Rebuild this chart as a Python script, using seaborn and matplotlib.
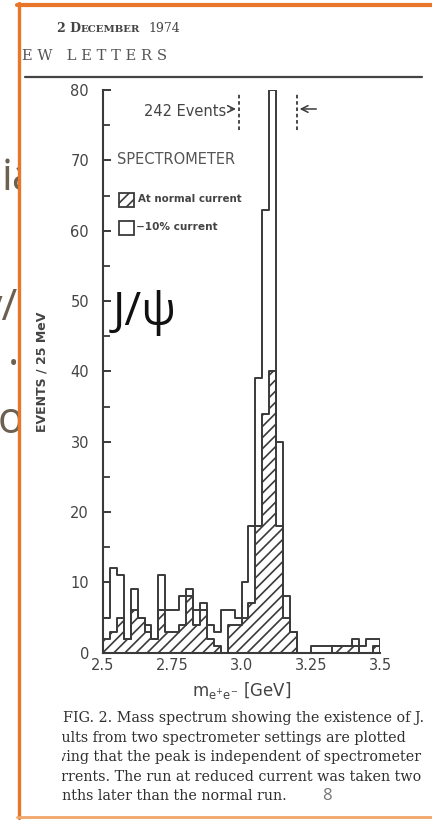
import numpy as np
import pandas as pd
import matplotlib
matplotlib.use("Agg")
import matplotlib.pyplot as plt
import seaborn as sns
from matplotlib.patches import Rectangle
from matplotlib.lines import Line2D
from matplotlib.ticker import MultipleLocator
from matplotlib.transforms import Bbox, TransformedBbox

# ---------------- data ----------------
bin_lo, bin_hi, bin_w = 2.5, 3.5, 0.025          # 25 MeV bins
bin_centers = np.arange(40) * bin_w + bin_lo + bin_w / 2
reduced_current = [5, 12, 11, 2, 9, 5, 4, 2, 11, 6,
                   6, 8, 9, 6, 7, 4, 3, 6, 6, 5,
                   10, 18, 39, 63, 80, 30, 8, 3, 0, 0,
                   1, 1, 1, 1, 1, 1, 2, 1, 2, 2]
normal_current = [2, 3, 5, 2, 6, 5, 3, 2, 6, 3,
                  3, 4, 8, 4, 6, 2, 1, 0, 4, 4,
                  5, 7, 18, 34, 40, 18, 5, 3, 0, 0,
                  0, 0, 0, 1, 1, 1, 1, 0, 0, 1]
y_ticks = [0, 10, 20, 30, 40, 50, 60, 70, 80]
x_ticks = [2.5, 2.75, 3.0, 3.25, 3.5]
x_tick_labels = ["2.5", "2.75", "3.0", "3.25", "3.5"]
event_window = [2.99, 3.2]
event_label = "242 Events"

df_normal = pd.DataFrame({"mass": bin_centers, "n": normal_current})
df_reduced = pd.DataFrame({"mass": bin_centers, "n": reduced_current})

W, H = 432, 821
INK = "#3a3a3a"

sns.set_theme(style="white")
plt.rcParams["font.family"] = ["DejaVu Sans"]
plt.rcParams["hatch.linewidth"] = 1.2

fig = plt.figure(figsize=(W / 100, H / 100), dpi=100)
fig.patch.set_facecolor("white")

def fx(x):
    return x / W

def fy(y):
    return 1 - y / H

# slide background fragments (partly hidden behind the figure panel)
clip = TransformedBbox(Bbox([[0, 0], [fx(17.5), 1]]), fig.transFigure)
frag_kw = dict(color="#6d6050", fontsize=31, family=["Open Sans", "DejaVu Sans"], zorder=-10)
for s, xx, yy in [("ia", 2, 190), ("y/s", -19, 320), (".", 8, 365), ("o", -2, 433)]:
    t = fig.text(fx(xx), fy(yy), s, **frag_kw)
    t.set_clip_box(clip)
    t.set_clip_on(True)
fig.patches.append(Rectangle((fx(18), 0), 1, 1, transform=fig.transFigure,
                             facecolor="white", edgecolor="none", zorder=-5))

# orange frame
fig.lines.append(Line2D([fx(18.5), fx(18.5)], [fy(3), fy(818)], transform=fig.transFigure,
                        color="#E8772A", lw=2.4, zorder=5))
fig.lines.append(Line2D([fx(17), 1], [fy(5), fy(5)], transform=fig.transFigure,
                        color="#E8772A", lw=3.0, zorder=5))
fig.lines.append(Line2D([fx(17), 1], [fy(816.5), fy(816.5)], transform=fig.transFigure,
                        color="#F2A66A", lw=2.0, zorder=5))

# header
fig.text(fx(57), fy(32), "2 D", fontsize=9, family="DejaVu Serif", weight="bold", color="#444")
fig.text(fx(81), fy(32), "ECEMBER", fontsize=7.3, family="DejaVu Serif", weight="bold", color="#444")
fig.text(fx(148), fy(32), "1974", fontsize=9, family="DejaVu Serif", color="#444")
fig.text(fx(22), fy(60), "E W   L E T T E R S", fontsize=10.6, family="DejaVu Serif", color="#555")
fig.lines.append(Line2D([fx(25), fx(422)], [fy(77), fy(77)], transform=fig.transFigure,
                        color="#444", lw=1.6))

# ---------------- axes ----------------
x0, x1 = 103, 380
y0, y1 = 652.7, 90
ax = fig.add_axes([fx(x0), fy(y0), (x1 - x0) / W, (y0 - y1) / H])
ax.set_facecolor("none")

sns.histplot(data=df_normal, x="mass", weights="n", binwidth=bin_w, binrange=(bin_lo, bin_hi),
             element="step", fill=True, color=INK, hatch="///", linewidth=1.4, ax=ax)
ax.collections[-1].set_facecolor("none")
ax.collections[-1].set_edgecolor(INK)
sns.histplot(data=df_reduced, x="mass", weights="n", binwidth=bin_w, binrange=(bin_lo, bin_hi),
             element="step", fill=True, color=INK, linewidth=1.4, ax=ax)
ax.collections[-1].set_facecolor("none")
ax.collections[-1].set_edgecolor(INK)

ax.set_xlim(2.5, 3.5)
ax.set_ylim(0, 80)
ax.set_yticks(y_ticks)
ax.yaxis.set_minor_locator(MultipleLocator(5))
ax.set_xticks(x_ticks)
ax.set_xticklabels(x_tick_labels)
for s in ["top", "right"]:
    ax.spines[s].set_visible(False)
for s in ["left", "bottom"]:
    ax.spines[s].set_color(INK)
    ax.spines[s].set_linewidth(1.5)
ax.tick_params(axis="y", which="major", direction="in", length=6, width=1.4, color=INK,
               labelsize=10.5, labelcolor="#444", pad=10, left=True)
ax.tick_params(axis="y", which="minor", direction="in", length=5, width=1.3, color=INK, left=True)
ax.tick_params(axis="x", direction="in", length=0, labelsize=10.5, labelcolor="#444", pad=4)
ax.set_ylabel("EVENTS / 25 MeV", fontsize=9, weight="bold", color="#444", labelpad=16)
ax.set_xlabel(r"$\mathregular{m_{e^{+}e^{-}}}$ [GeV]", fontsize=12, color="#444", labelpad=5)
ax.grid(False)

# 242 events window
for xv in event_window:
    ax.plot([xv, xv], [74.3, 79.4], ls=(0, (2, 1.5)), color=INK, lw=1.3)
ax.annotate("", xy=(event_window[0], 77.3), xytext=(event_window[0] - 0.04, 77.3),
            arrowprops=dict(arrowstyle="->", color=INK, lw=1.1))
ax.annotate("", xy=(event_window[1], 77.3), xytext=(event_window[1] + 0.08, 77.3),
            arrowprops=dict(arrowstyle="->", color=INK, lw=1.1))
ax.text(event_window[0] - 0.045, 77.0, event_label, ha="right", va="center",
        fontsize=10.5, color="#444")

# legend (hand-drawn style)
fig.text(fx(117), fy(159), "SPECTROMETER", fontsize=10.5, color="#555", va="center")
fig.patches.append(Rectangle((fx(119), fy(207)), 15 / W, 14 / H, transform=fig.transFigure,
                             facecolor="none", edgecolor=INK, hatch="///", lw=1.3))
fig.text(fx(138), fy(199), "At normal current", fontsize=7.4, weight="bold", color="#444", va="center")
fig.patches.append(Rectangle((fx(119), fy(235)), 15 / W, 14 / H, transform=fig.transFigure,
                             facecolor="none", edgecolor=INK, lw=1.3))
fig.text(fx(136), fy(227), "\u221210% current", fontsize=7.6, weight="bold", color="#444", va="center")

# slide overlay label
fig.text(fx(113), fy(325), "J/\u03c8", fontsize=33, color="#111",
         family=["Open Sans", "DejaVu Sans"])

# caption
cap_kw = dict(fontsize=10.3, family="DejaVu Serif", color="#2e2e2e")
caption = ["FIG. 2. Mass spectrum showing the existence of J.",
           "Results from two spectrometer settings are plotted",
           "showing that the peak is independent of spectrometer",
           "currents. The run at reduced current was taken two",
           "months later than the normal run."]
cap_x = [424, 406, 421, 421, 40]
cap_ha = ["right", "right", "right", "right", "left"]
cap_y = [722, 742, 761, 781, 800]
for t, xx, yy, ha in zip(caption, cap_x, cap_y, cap_ha):
    fig.text(fx(xx), fy(yy), t, zorder=1, ha=ha, **cap_kw)
fig.patches.append(Rectangle((fx(20), fy(808)), 42 / W, 100 / H, transform=fig.transFigure,
                             facecolor="white", edgecolor="none", zorder=2))
fig.text(fx(322), fy(800), "8", fontsize=12, color="#777", family=["Open Sans", "DejaVu Sans"], zorder=3)

fig.savefig("out.png", dpi=100)
